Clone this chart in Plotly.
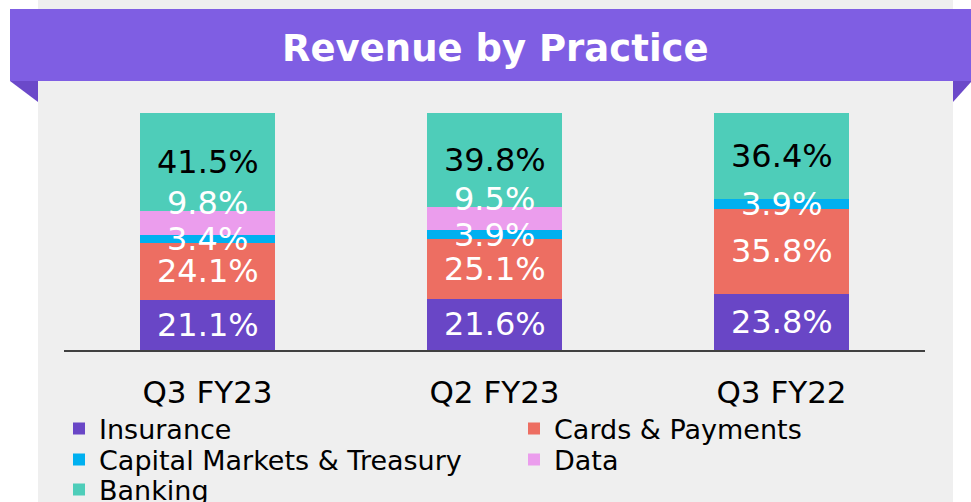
import plotly.graph_objects as go

# ---- data ----
categories = ["Q3 FY23", "Q2 FY23", "Q3 FY22"]
insurance = [21.1, 21.6, 23.8]
cards_payments = [24.1, 25.1, 35.8]
capital_markets = [3.4, 3.9, 3.9]
data_practice = [9.8, 9.5, 0.0]
banking = [41.5, 39.8, 36.4]

series_names = ["Insurance", "Cards & Payments", "Capital Markets & Treasury", "Data", "Banking"]
series_values = [insurance, cards_payments, capital_markets, data_practice, banking]
series_colors = ["#6946c6", "#ed6e62", "#00b0f0", "#eb9ded", "#4ecdb9"]
label_colors = ["white", "white", "white", "white", "black"]
label_shift = [0, 0, 0, 20, 0]
title_text = "Revenue by Practice"

# ---- geometry ----
W, H = 971, 502
ml, mr, mt, mb = 64, 46, 113, 152
pw, ph = W - ml - mr, H - mt - mb
def px2x(px):
    return (px - ml) / pw
def px2y(py):
    return (H - mb - py) / ph

FONT = "DejaVu Sans"
fig = go.Figure()

legend_names = ["legend", "legend2", "legend3", "legend4", "legend5"]
for name, vals, col, lg in zip(series_names, series_values, series_colors, legend_names):
    fig.add_trace(go.Bar(
        x=categories, y=vals, name=name,
        marker=dict(color=col, line=dict(width=0)),
        legend=lg, hoverinfo="name+y",
    ))

# data labels
annotations = []
cum = [0.0] * len(categories)
for s, vals in enumerate(series_values):
    for i, v in enumerate(vals):
        mid = cum[i] + v / 2
        cum[i] += v
        if v <= 0:
            continue
        annotations.append(dict(
            x=categories[i], y=mid, xref="x", yref="y",
            text=f"{v:.1f}%", showarrow=False, yshift=label_shift[s],
            font=dict(family=FONT, size=32, color=label_colors[s]),
        ))

# title
annotations.append(dict(
    x=px2x(495), y=px2y(49), xref="paper", yref="paper",
    text=f"<b>{title_text}</b>", showarrow=False,
    font=dict(family=FONT, size=37, color="white"),
    xanchor="center", yanchor="middle",
))

shapes = [
    # gray panel
    dict(type="rect", xref="paper", yref="paper", x0=px2x(38), x1=px2x(953),
         y0=px2y(H), y1=px2y(0), fillcolor="#efefef", line=dict(width=0), layer="below"),
    # banner
    dict(type="rect", xref="paper", yref="paper", x0=px2x(10), x1=px2x(972),
         y0=px2y(81), y1=px2y(9), fillcolor="#7f5ee3", line=dict(width=0), layer="below"),
    # folds
    dict(type="path", xref="paper", yref="paper",
         path=f"M{px2x(10)},{px2y(81)} L{px2x(38)},{px2y(81)} L{px2x(38)},{px2y(102)} Z",
         fillcolor="#6b49c9", line=dict(width=0), layer="below"),
    dict(type="path", xref="paper", yref="paper",
         path=f"M{px2x(953)},{px2y(81)} L{px2x(972)},{px2y(81)} L{px2x(953)},{px2y(102)} Z",
         fillcolor="#6b49c9", line=dict(width=0), layer="below"),
]

legend_pos = [(59, 429), (514, 429), (59, 460), (514, 460), (59, 490)]
legend_layout = {}
for lg, (lx, ly) in zip(legend_names, legend_pos):
    legend_layout[lg] = dict(
        x=lx / W, y=1 - ly / H, xref="container", yref="container",
        xanchor="left", yanchor="middle", bgcolor="rgba(0,0,0,0)",
        borderwidth=0, font=dict(family=FONT, size=27, color="black"),
    )

fig.update_layout(
    width=W, height=H,
    margin=dict(l=ml, r=mr, t=mt, b=mb, autoexpand=False),
    paper_bgcolor="white", plot_bgcolor="rgba(0,0,0,0)",
    barmode="stack", bargap=0.53,
    font=dict(family=FONT, color="black"),
    showlegend=True,
    annotations=annotations, shapes=shapes,
    xaxis=dict(showline=True, linecolor="#404040", linewidth=2, showgrid=False,
               zeroline=False, ticks="", tickfont=dict(family=FONT, size=31, color="black"),
               ticklabelstandoff=14, fixedrange=True, automargin=False),
    yaxis=dict(range=[0, 99.9], visible=False, showgrid=False, zeroline=False,
               fixedrange=True, automargin=False),
    **legend_layout,
)

fig.write_html(
    "out.html",
    config={"displayModeBar": False},
    post_script="document.body.style.margin='0';document.body.style.overflow='hidden';",
)
